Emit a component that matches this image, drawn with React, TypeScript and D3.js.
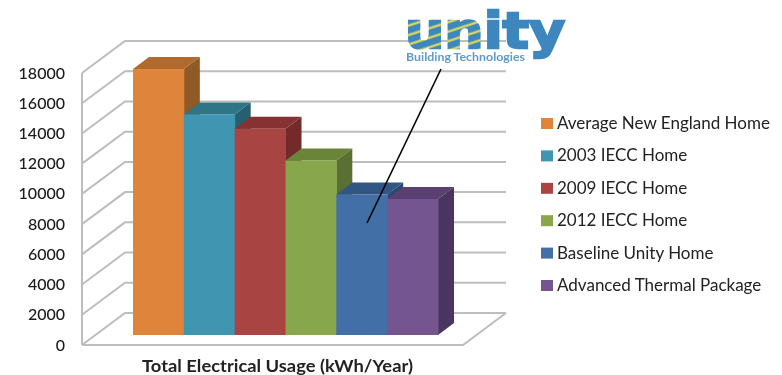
import React from "react";
import * as d3 from "d3";

const categories = ["Average New England Home", "2003 IECC Home", "2009 IECC Home", "2012 IECC Home", "Baseline Unity Home", "Advanced Thermal Package"];
const values = [17600, 14600, 13650, 11550, 9300, 9000];
const frontColors = ["#DF843B", "#3F96B0", "#A84442", "#88A64B", "#4270A6", "#75558F"];
const topColors = ["#B06A2D", "#2D7488", "#863230", "#6B8438", "#315784", "#5A3F70"];
const sideColors = ["#8F5A26", "#25606F", "#73292A", "#5A7030", "#2A4A70", "#4A3460"];
const yTicks = [0, 2000, 4000, 6000, 8000, 10000, 12000, 14000, 16000, 18000];
const axisTitle = "Total Electrical Usage (kWh/Year)";
const logoWord = "unity";
const logoSub = "Building Technologies";
const FONT = "Lato, 'Open Sans', sans-serif";

const y = d3.scaleLinear().domain([0, 18000]).range([345, 73]);
const wallLeft = 82, wallRight = 463, depthX = 43, depthY = 32;
const barBase = 10;
const barDX = 16, barDY = 12;
const x = d3.scaleBand<string>().domain(categories).range([133, 438]);
const legendY = d3.scalePoint<string>().domain(categories).range([123.5, 285.5]);
const poly = (pts: [number, number][]) => pts.map(p => p.join(",")).join(" ");

export default function App() {
  return (
    <svg width={782} height={375} style={{ position: "absolute", left: 0, top: 0, background: "#fff" }} fontFamily={FONT}>
      <defs>
        <filter id="soft"><feGaussianBlur stdDeviation="0.45" /></filter>
        <pattern id="stripes" width="9" height="9" patternUnits="userSpaceOnUse" patternTransform="rotate(-18)">
          <rect width="9" height="9" fill="#3E86BE" />
          <rect y="5.5" width="9" height="2.2" fill="#E4DF55" />
        </pattern>
      </defs>
      <g filter="url(#soft)">
        {yTicks.map(t => (
          <polyline key={t} stroke="#BDBDBD" strokeWidth={2} fill="none" points={poly([[wallLeft, y(t)], [wallLeft + depthX, y(t) - depthY], [wallRight + depthX, y(t) - depthY]])} />
        ))}
        <line x1={wallLeft} x2={wallLeft} y1={y(0)} y2={y(18000)} stroke="#BDBDBD" strokeWidth={2} />
        <polyline fill="none" stroke="#BDBDBD" strokeWidth={2} points={poly([[wallLeft, y(0)], [wallRight, y(0)], [wallRight + depthX, y(0) - depthY]])} />

        {categories.map((c, i) => {
          const x0 = x(c)!, x1 = x0 + x.bandwidth();
          const b = y(0) - barBase, t = y(values[i]) - barBase;
          return (
            <g key={c}>
              <polygon fill={topColors[i]} points={poly([[x0, t], [x0 + barDX, t - barDY], [x1 + barDX, t - barDY], [x1, t]])} />
              <polygon fill={sideColors[i]} points={poly([[x1, t], [x1 + barDX, t - barDY], [x1 + barDX, b - barDY], [x1, b]])} />
              <rect x={x0} y={t} width={x.bandwidth() + 0.5} height={b - t} fill={frontColors[i]} />
            </g>
          );
        })}

        {yTicks.map(t => (
          <text key={t} x={65} y={y(t) + 5.5} textAnchor="end" fontSize={16} fontWeight={500} fill="#1a1a1a">{t}</text>
        ))}
        <text x={277.5} y={372} textAnchor="middle" fontSize={17.5} fontWeight={700} fill="#222" textLength={271} lengthAdjust="spacingAndGlyphs">{axisTitle}</text>

        {categories.map((c, i) => (
          <g key={c}>
            <rect x={541} y={legendY(c)! - 5.5} width={12} height={11} fill={frontColors[i]} />
            <text x={557} y={legendY(c)! + 5.5} fontSize={17} fill="#222">{c}</text>
          </g>
        ))}

        <text x={405} y={47.5} fontSize={50} fontWeight={700} fontFamily="'DejaVu Sans'" fill="#3E86BE" stroke="#3E86BE" strokeWidth={2.4} textLength={160} lengthAdjust="spacingAndGlyphs">
          <tspan fill="url(#stripes)" stroke="url(#stripes)">{logoWord.slice(0, 2)}</tspan>{logoWord.slice(2)}
        </text>
        <text x={406} y={61} fontSize={10.5} fontWeight={700} fill="#5C9BCB" textLength={119} lengthAdjust="spacingAndGlyphs">{logoSub}</text>
      </g>
      <line x1={441} y1={69} x2={367} y2={223} stroke="#000" strokeWidth={1.6} />
    </svg>
  );
}
